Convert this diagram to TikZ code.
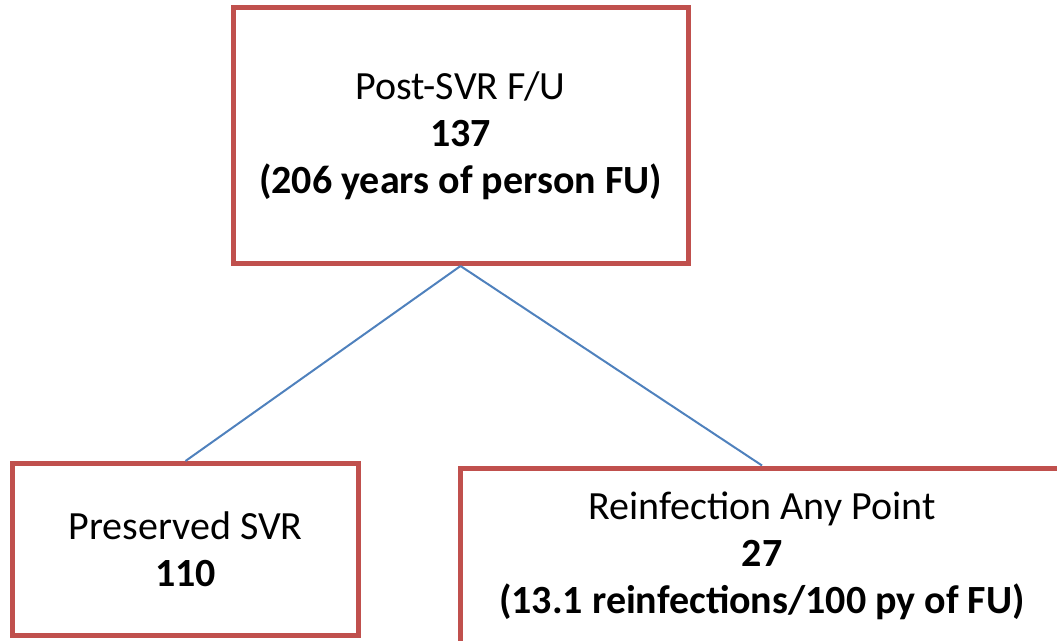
\documentclass[tikz,border=0pt]{standalone}
\usepackage{fontspec}
\setmainfont{Carlito}
\definecolor{boxred}{HTML}{C0504D}
\definecolor{lineblue}{HTML}{4F81BD}
\tikzset{
  flowbox/.style={draw=boxred, line width=5pt, fill=white, inner sep=0pt, align=center,
    font=\fontsize{40}{47}\selectfont},
  link/.style={draw=lineblue, line width=2pt}
}
\begin{document}
\begin{tikzpicture}[x=1pt,y=-1pt]
\useasboundingbox (0,0) rectangle (1057,640);
\node[flowbox, minimum width=455pt, minimum height=256pt] (top) at (460.5,135.5)
  {Post-SVR F/U\\\textbf{137}\\\textbf{(206 years of person FU)}};
\node[flowbox, minimum width=346pt, minimum height=172pt] (left) at (185.5,549.5)
  {Preserved SVR\\\textbf{110}};
\node[flowbox, minimum width=603pt, minimum height=176pt] (right) at (762,556)
  {Reinfection Any Point\\\textbf{27}\\\textbf{(13.1 reinfections/100 py of FU)}};
\draw[link] (top.south) -- (left.north);
\draw[link] (top.south) -- (right.north);
\end{tikzpicture}
\end{document}
